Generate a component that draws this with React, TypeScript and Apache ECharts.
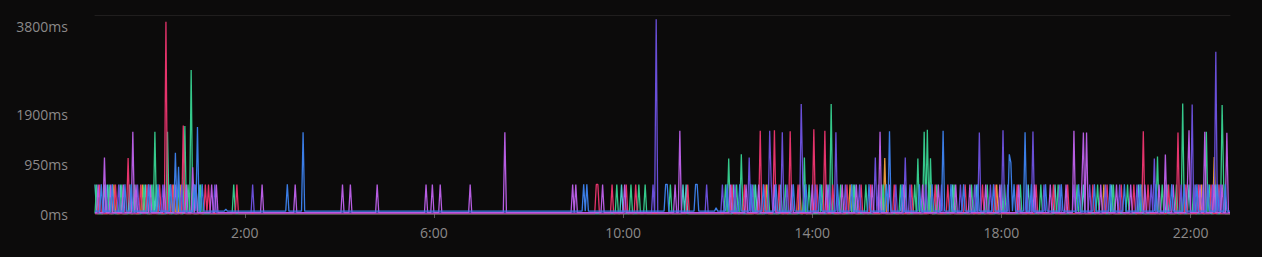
import React, { useEffect, useRef } from "react";
import * as echarts from "echarts";

// time grid: minutes from midnight, first sample 22:50 of previous day, one sample every 2 minutes
const START_MIN = -70;
const STEP_MIN = 2;
const POINTS = 721;
// common ceiling level of the many small spikes (ms)
const PLATEAU_MS = 565;

const X_TICKS = [120, 360, 600, 840, 1080, 1320];
const Y_TICKS = [0, 950, 1900, 3800];
const Y_MAX = 3800;

// sample indices where each series sits at the plateau level
const redLow = [3, 13, 29, 33, 41, 49, 70, 72, 90, 318, 319, 328, 337, 343, 376, 404, 412, 425, 434, 446, 458, 468, 477, 486, 492, 507, 518, 533, 541, 552, 563, 571, 585, 597, 608, 617, 633, 642, 651, 659, 668, 681, 692, 700, 708, 713];
const greenLow = [1, 9, 17, 25, 31, 36, 53, 59, 67, 88, 331, 340, 345, 349, 365, 400, 407, 418, 427, 438, 453, 461, 473, 481, 489, 500, 511, 520, 534, 545, 556, 566, 577, 587, 600, 611, 623, 636, 646, 655, 664, 677, 686, 697, 707, 716];
const blueLow = [4, 11, 19, 23, 34, 40, 48, 63, 68, 122, 310, 312, 362, 363, 381, 382, 401, 409, 416, 424, 432, 443, 451, 460, 471, 480, 491, 502, 512, 523, 531, 543, 551, 560, 570, 583, 594, 603, 613, 624, 634, 644, 653, 663, 673, 683, 691, 699, 706, 712, 717];
const indigoLow = [7, 15, 27, 43, 55, 76, 100, 354, 388, 398, 406, 417, 429, 439, 449, 457, 466, 476, 485, 497, 508, 517, 527, 537, 549, 558, 568, 579, 591, 602, 612, 621, 631, 641, 650, 661, 670, 679, 689, 698, 703, 709, 714];
const violetLow = [2, 10, 18, 26, 35, 44, 51, 58, 64, 74, 77, 106, 127, 157, 162, 179, 210, 214, 219, 238, 303, 305, 322, 336, 368, 403, 413, 421, 431, 442, 455, 464, 474, 483, 493, 504, 513, 525, 535, 546, 555, 565, 574, 586, 596, 606, 616, 626, 638, 648, 657, 666, 675, 684, 693, 701, 710, 715, 718];
const orangeLow = [12, 30, 50, 54, 426, 447, 479, 530, 572, 640, 702];
const cyanLow = [0, 6, 8, 16, 22, 32, 37, 39, 47, 57, 62, 66, 334, 373, 375, 405, 419, 435, 450, 465, 482, 499, 514, 529, 544, 559, 575, 592, 609, 627, 645, 662, 680, 694, 711];

// [sample index, ms] for the other peaks
const redHigh = [[21, 1070], [45, 3670], [56, 1690], [422, 1590], [431, 1600], [441, 1580], [456, 1620], [463, 1590], [665, 1580], [687, 1555]];
const greenHigh = [[38, 1570], [46, 1570], [57, 1680], [61, 2750], [402, 1060], [410, 1140], [450, 1080], [467, 2100], [522, 1060], [526, 1570], [528, 1610], [530, 1065], [674, 1100], [690, 2110], [705, 1570], [715, 2080]];
const blueHigh = [[51, 1170], [53, 900], [65, 1660], [83, 90], [132, 1560], [394, 120], [504, 1580], [538, 1590], [580, 1140], [581, 980], [590, 1560]];
const indigoHigh = [[356, 3720], [415, 1080], [428, 1590], [436, 1560], [448, 2100], [470, 1560], [495, 1080], [514, 1080], [561, 1555], [576, 1600], [595, 1575], [672, 1060], [696, 2090], [711, 3100]];
const violetHigh = [[6, 1080], [24, 1570], [62, 890], [260, 1560], [371, 1590], [498, 1570], [621, 1590], [627, 1555], [629, 1555], [679, 1135], [694, 1600], [704, 1570], [718, 1550]];
const orangeHigh = [[501, 1070], [710, 1090]];
const cyanHigh: number[][] = [];

// resting level of each series (ms)
const baselines = { orange: 6, cyan: 10, green: 8, red: 8, indigo: 20, violet: 25, blue: 55 };

const SERIES = [
  { name: "orange", color: "#e8993b", low: orangeLow, high: orangeHigh },
  { name: "cyan", color: "#4cc4cc", low: cyanLow, high: cyanHigh },
  { name: "green", color: "#35c98b", low: greenLow, high: greenHigh },
  { name: "red", color: "#e5336b", low: redLow, high: redHigh },
  { name: "indigo", color: "#6a4fd8", low: indigoLow, high: indigoHigh },
  { name: "violet", color: "#b75de2", low: violetLow, high: violetHigh },
  { name: "blue", color: "#3b7de6", low: blueLow, high: blueHigh },
];

function buildData(base: number, low: number[], high: number[][]) {
  const vals: number[] = new Array(POINTS).fill(base);
  low.forEach((i) => (vals[i] = PLATEAU_MS));
  high.forEach(([i, v]) => (vals[i] = v));
  return vals.map((v, i) => [START_MIN + i * STEP_MIN, v]);
}

const LABEL_COLOR = "#8b8989";
const FONT = "Open Sans";

export default function App() {
  const ref = useRef<HTMLDivElement>(null);
  useEffect(() => {
    if (!ref.current) return;
    const chart = echarts.init(ref.current, null, { renderer: "svg" });
    const xMin = START_MIN;
    const xMax = START_MIN + STEP_MIN * (POINTS - 1);
    chart.setOption({
      animation: false,
      backgroundColor: "#0c0b0b",
      grid: { left: 95, right: 32, top: 15, bottom: 43 },
      xAxis: [
        {
          type: "value",
          min: xMin,
          max: xMax,
          axisLine: { show: false },
          axisTick: { show: true, customValues: X_TICKS, length: 4, lineStyle: { color: "#5c5a5a" } },
          axisLabel: {
            customValues: X_TICKS,
            formatter: (v: number) => `${v / 60}:00`,
            color: LABEL_COLOR,
            fontSize: 14,
            fontFamily: FONT,
            margin: 11,
          },
          splitLine: { show: false },
        },
        {
          type: "value",
          position: "top",
          min: xMin,
          max: xMax,
          axisLine: { show: true, lineStyle: { color: "#201e1e", width: 1 } },
          axisTick: { show: false },
          axisLabel: { show: false },
          splitLine: { show: false },
        },
      ],
      yAxis: {
        type: "value",
        min: 0,
        max: Y_MAX,
        axisLine: { show: false },
        axisTick: { show: false },
        splitLine: { show: false },
        axisLabel: {
          customValues: Y_TICKS,
          formatter: (v: number) => (v === Y_MAX ? `{top|${v}ms}` : `${v}ms`),
          color: LABEL_COLOR,
          fontSize: 14,
          fontFamily: FONT,
          margin: 27,
          rich: {
            top: { padding: [22, 0, 0, 0], color: LABEL_COLOR, fontSize: 14, fontFamily: FONT },
          },
        },
      },
      series: SERIES.map((s) => ({
        name: s.name,
        type: "line",
        xAxisIndex: 0,
        showSymbol: false,
        symbol: "none",
        lineStyle: { color: s.color, width: 1.3 },
        itemStyle: { color: s.color },
        data: buildData((baselines as any)[s.name], s.low, s.high),
      })),
    });
    return () => chart.dispose();
  }, []);
  return (
    <div
      ref={ref}
      style={{ position: "fixed", left: 0, top: 0, width: 1262, height: 257 }}
    />
  );
}
